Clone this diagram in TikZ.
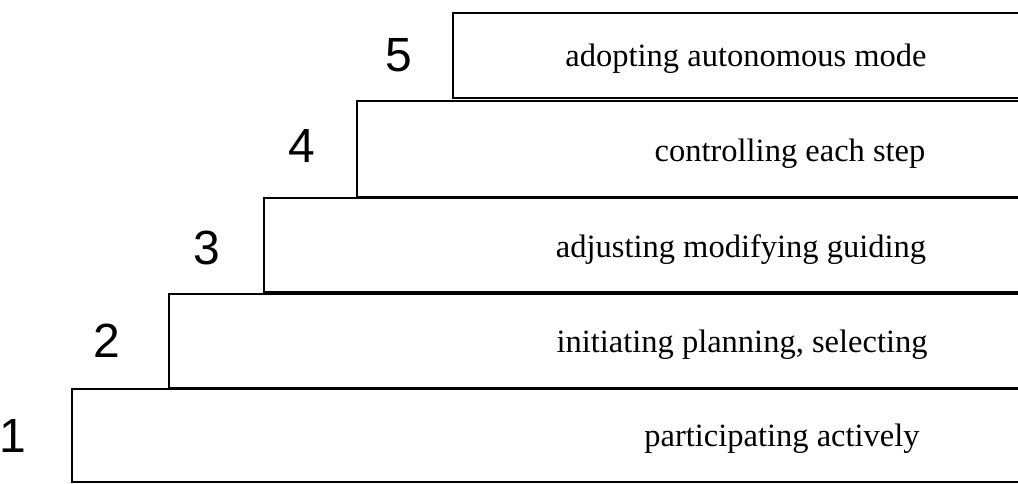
\documentclass[tikz,border=0pt]{standalone}
\usepackage{fontspec}
\setmainfont{Liberation Serif}
\newfontfamily\numfont{Liberation Sans}
\begin{document}
\begin{tikzpicture}[x=1pt,y=-1pt,
  stepline/.style={line width=2.6pt, line cap=rect},
  steplabel/.style={anchor=base, inner sep=0pt, font=\fontsize{32.5}{38}\selectfont},
  stepnum/.style={anchor=center, inner sep=0pt, font=\numfont\fontsize{48}{54}\selectfont}]
\useasboundingbox (0,0) rectangle (1018,484);
\clip (0,0) rectangle (1018,484);
% boxes (open to the right edge)
\draw[stepline] (1030,389) -- (72,389) -- (72,482) -- (1030,482);
\draw[stepline] (1030,294) -- (169,294) -- (169,388) -- (1030,388);
\draw[stepline] (1030,198) -- (264,198) -- (264,292) -- (1030,292);
\draw[stepline] (1030,101) -- (357,101) -- (357,197) -- (1030,197);
\draw[stepline] (1030,13) -- (453,13) -- (453,98) -- (1030,98);
% labels
\node[steplabel] (l5) at (746,67) {adopting autonomous mode};
\node[steplabel] (l4) at (790,162) {controlling each step};
\node[steplabel] (l3) at (741,257) {adjusting modifying guiding};
\node[steplabel] (l2) at (742,352) {initiating planning, selecting};
\node[steplabel] (l1) at (782,446) {participating actively};
% numbers
\node[stepnum] (n5) at (399,55) {5};
\node[stepnum] (n4) at (302,146) {4};
\node[stepnum] (n3) at (207,248) {3};
\node[stepnum] (n2) at (107,341) {2};
\node[stepnum] (n1) at (13,436) {1};
\end{tikzpicture}
\end{document}
